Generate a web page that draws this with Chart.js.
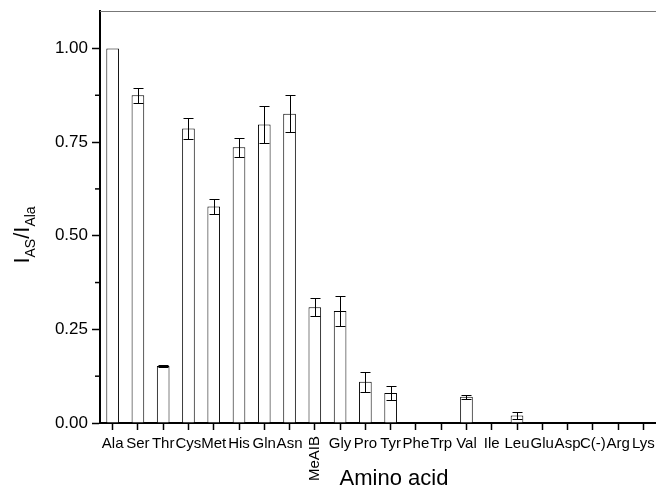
<!DOCTYPE html>
<html>
<head>
<meta charset="utf-8">
<script src="https://cdn.jsdelivr.net/npm/chart.js@4/dist/chart.umd.min.js"></script>
<style>
    html, body { margin: 0; padding: 0; background: #fff; overflow: hidden; }
    #wrap { width: 656px; height: 491px; position: relative; }
</style>
</head>
<body>
<div id="wrap"><canvas id="chart"></canvas></div>
<script>
// amino acids along the x axis
const aminoAcids = ['Ala', 'Ser', 'Thr', 'Cys', 'Met', 'His', 'Gln', 'Asn', 'MeAIB', 'Gly', 'Pro',
    'Tyr', 'Phe', 'Trp', 'Val', 'Ile', 'Leu', 'Glu', 'Asp', 'C(-)', 'Arg', 'Lys'];

// I_AS / I_Ala ratio
const ratio = [1.00, 0.875, 0.152, 0.786, 0.578, 0.736, 0.797, 0.826, 0.309, 0.299, 0.110,
    0.080, 0, 0, 0.070, 0, 0.020, 0, 0, 0, 0.002, 0];

// error (+/-)
const ratioErr = [0, 0.020, 0.003, 0.029, 0.020, 0.025, 0.050, 0.050, 0.024, 0.040, 0.026,
    0.019, 0, 0, 0.006, 0, 0.010, 0, 0, 0, 0.002, 0];

const yMajorTicks = [0, 0.25, 0.5, 0.75, 1.0];

const FONT = 'Arial, "Liberation Sans", sans-serif';

function isMajor(v) {
    return yMajorTicks.some(t => Math.abs(t - v) < 1e-6);
}

const extrasPlugin = {
    id: 'extras',
    afterDraw(chart) {
        const ctx = chart.ctx;
        const area = chart.chartArea;
        const xs = chart.scales.x;
        const ys = chart.scales.y;
        ctx.save();

        // top frame line (grey)
        ctx.strokeStyle = '#777';
        ctx.lineWidth = 1;
        ctx.beginPath();
        ctx.moveTo(area.left, area.top + 0.5);
        ctx.lineTo(area.right, area.top + 0.5);
        ctx.stroke();

        // minor y ticks
        ctx.strokeStyle = '#000';
        ctx.lineWidth = 1.5;
        ys.ticks.forEach(t => {
            if (isMajor(t.value)) return;
            const y = ys.getPixelForValue(t.value);
            ctx.beginPath();
            ctx.moveTo(area.left - 5, y);
            ctx.lineTo(area.left, y);
            ctx.stroke();
        });

        // error bars
        const meta = chart.getDatasetMeta(0);
        ctx.lineWidth = 1;
        ctx.strokeStyle = '#000';
        ratio.forEach((v, i) => {
            const e = ratioErr[i];
            if (!e) return;
            const x = Math.round(meta.data[i].x) + 0.5;
            const yHi = Math.round(ys.getPixelForValue(v + e)) + 0.5;
            const yLo = Math.round(ys.getPixelForValue(Math.max(v - e, 0))) + 0.5;
            ctx.beginPath();
            ctx.moveTo(x, yHi);
            ctx.lineTo(x, yLo);
            ctx.moveTo(x - 5, yHi);
            ctx.lineTo(x + 5, yHi);
            ctx.moveTo(x - 5, yLo);
            ctx.lineTo(x + 5, yLo);
            ctx.stroke();
        });

        // rotated MeAIB label
        const mi = aminoAcids.indexOf('MeAIB');
        const mx = xs.getPixelForTick(mi);
        ctx.fillStyle = '#000';
        ctx.font = '15px ' + FONT;
        ctx.translate(mx, area.bottom + 13);
        ctx.rotate(-Math.PI / 2);
        ctx.textAlign = 'right';
        ctx.textBaseline = 'middle';
        ctx.fillText('MeAIB', 0, 0);
        ctx.setTransform(1, 0, 0, 1, 0, 0);

        // x axis title
        ctx.font = '22px ' + FONT;
        ctx.textAlign = 'center';
        ctx.textBaseline = 'middle';
        ctx.fillText('Amino acid', 394, 479);

        // y axis title with subscripts
        const parts = [
            {t: 'I', size: 22, dy: 0},
            {t: 'AS', size: 14, dy: 6},
            {t: '/', size: 22, dy: 0},
            {t: 'I', size: 22, dy: 0},
            {t: 'Ala', size: 14, dy: 6}
        ];
        let total = 0;
        parts.forEach(p => {
            ctx.font = p.size + 'px ' + FONT;
            p.w = ctx.measureText(p.t).width;
            total += p.w;
        });
        ctx.translate(29, 235);
        ctx.rotate(-Math.PI / 2);
        ctx.textAlign = 'left';
        ctx.textBaseline = 'alphabetic';
        let px = -total / 2;
        parts.forEach(p => {
            ctx.font = p.size + 'px ' + FONT;
            ctx.fillText(p.t, px, p.dy);
            px += p.w;
        });
        ctx.restore();
    }
};

const ctx = document.getElementById('chart').getContext('2d');
new Chart(ctx, {
    type: 'bar',
    data: {
        labels: aminoAcids,
        datasets: [{
            data: ratio,
            backgroundColor: '#fff',
            borderColor: '#000',
            borderWidth: 1,
            barPercentage: 0.5,
            categoryPercentage: 1.0
        }]
    },
    options: {
        responsive: true,
        maintainAspectRatio: false,
        animation: false,
        events: [],
        layout: {padding: {top: 11, left: 0, right: 0, bottom: 0}},
        plugins: {
            legend: {display: false},
            tooltip: {enabled: false}
        },
        scales: {
            x: {
                offset: true,
                grid: {
                    display: true,
                    drawOnChartArea: false,
                    drawTicks: true,
                    tickLength: 7,
                    tickWidth: 1.5,
                    tickColor: '#000',
                    offset: false
                },
                border: {color: '#000', width: 2},
                ticks: {
                    autoSkip: false,
                    maxRotation: 0,
                    minRotation: 0,
                    padding: 5,
                    color: '#000',
                    font: {family: FONT, size: 15},
                    callback: function (v, i) {
                        const lab = aminoAcids[i];
                        return lab === 'MeAIB' ? '' : lab;
                    }
                },
                afterFit: function (scale) {
                    scale.height = 68;
                    scale.paddingLeft = 0;
                    scale.paddingRight = 0;
                }
            },
            y: {
                min: 0,
                max: 1.1,
                grid: {
                    display: true,
                    drawOnChartArea: false,
                    drawTicks: true,
                    tickLength: 8,
                    tickWidth: 1.5,
                    tickColor: c => (c.tick && isMajor(c.tick.value)) ? '#000' : 'rgba(0,0,0,0)'
                },
                border: {color: '#000', width: 2},
                ticks: {
                    stepSize: 0.125,
                    includeBounds: false,
                    padding: 4,
                    color: '#000',
                    font: {family: FONT, size: 17},
                    callback: v => isMajor(v) ? v.toFixed(2) : ''
                },
                afterFit: function (scale) {
                    scale.width = 100;
                    scale.paddingTop = 0;
                    scale.paddingBottom = 0;
                }
            }
        }
    },
    plugins: [extrasPlugin]
});
</script>
</body>
</html>
